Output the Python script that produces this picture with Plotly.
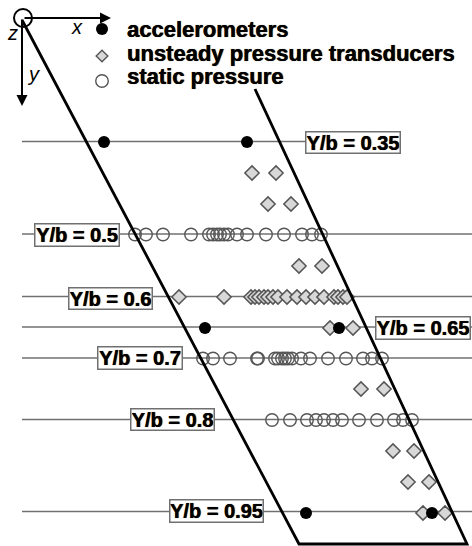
import plotly.graph_objects as go

# Span stations: label, line height, line start
stations = ["Y/b = 0.35", "Y/b = 0.5", "Y/b = 0.6", "Y/b = 0.65", "Y/b = 0.7", "Y/b = 0.8", "Y/b = 0.95"]
station_y = [141.5, 234, 296.5, 327, 358, 419.5, 511.5]
station_end = [306, 472, 472, 472, 472, 472, 472]
line_start = 22

# Planform outline
wing_x = [22, 299, 467, 255]
wing_y = [20, 544, 544, 89]

# Accelerometers
accel_x = [104, 247, 205, 339, 306, 432]
accel_y = [142, 142, 328, 328, 513, 513]

# Unsteady pressure transducers
row06_diamonds_x = [179, 224, 251, 255, 259, 264, 268, 273, 278, 287, 297, 306, 315, 324, 334, 338, 343, 347]
other_diamonds_x = [252, 276, 268, 291, 299, 322, 330, 353, 361, 384, 393, 414, 408, 429, 423, 445]
other_diamonds_y = [173, 173, 204, 204, 266, 266, 328, 328, 389, 389, 451, 451, 482, 482, 513, 513]
row06_y = 297

# Static pressure
row05_x = [135, 146, 163, 191, 209, 213, 217, 220, 224, 228, 237, 247, 266, 284, 302, 312, 321]
row07_x = [203, 213, 230, 257, 258, 275, 278, 282, 285, 288, 292, 301, 310, 328, 346, 363, 372, 382]
row08_x = [272, 290, 307, 316, 324, 333, 342, 359, 377, 394, 403, 412]
row05_y, row07_y, row08_y = 234.5, 358.5, 420

# Legend
legend_labels = ["accelerometers", "unsteady pressure transducers", "static pressure"]

# Label boxes: left, right, top, bottom
box_left = [305, 34, 68, 375, 97, 130, 169]
box_right = [400, 119, 152, 470, 182, 214, 263]
box_top = [131, 223, 287, 316, 346, 408, 499]
box_bottom = [153, 246, 309, 339, 369, 430, 522]

GREY = "#707070"
EDGE = "#555555"
FONT = "Liberation Sans"
HEAVY = "0.4px 0 0.7px rgba(0,0,0,0.85), -0.3px 0 0.5px rgba(0,0,0,0.6)"

fig = go.Figure()

# Station lines
for y, end in zip(station_y, station_end):
    fig.add_trace(go.Scatter(x=[line_start, end], y=[y, y], mode="lines",
                             line=dict(color=GREY, width=1.6), hoverinfo="skip"))

diamond = dict(symbol="diamond", size=11, color="#d8d8d8", line=dict(color=EDGE, width=1.5))
legend_diamond = dict(symbol="diamond", size=9, color="#d8d8d8", line=dict(color=EDGE, width=1.4))
open_circle = dict(symbol="circle-open", size=12.5, color=EDGE, line=dict(color=EDGE, width=1.4))
solid = dict(symbol="circle", size=12, color="black")

fig.add_trace(go.Scatter(x=row06_diamonds_x, y=[row06_y] * len(row06_diamonds_x),
                         mode="markers", marker=diamond, name=legend_labels[1]))
fig.add_trace(go.Scatter(x=other_diamonds_x, y=other_diamonds_y,
                         mode="markers", marker=diamond, name=legend_labels[1]))
for xs, y in ((row05_x, row05_y), (row07_x, row07_y), (row08_x, row08_y)):
    fig.add_trace(go.Scatter(x=xs, y=[y] * len(xs), mode="markers", marker=open_circle,
                             name=legend_labels[2]))
fig.add_trace(go.Scatter(x=accel_x, y=accel_y, mode="markers", marker=solid, name=legend_labels[0]))

# Wing outline
fig.add_trace(go.Scatter(x=wing_x, y=wing_y, mode="lines",
                         line=dict(color="black", width=2.8), hoverinfo="skip"))

# Legend samples
fig.add_trace(go.Scatter(x=[102], y=[29], mode="markers", marker=solid, hoverinfo="skip"))
fig.add_trace(go.Scatter(x=[102], y=[56], mode="markers", marker=legend_diamond, hoverinfo="skip"))
fig.add_trace(go.Scatter(x=[102], y=[81], mode="markers", marker=open_circle, hoverinfo="skip"))

# Origin circle
fig.add_shape(type="circle", x0=14, x1=32, y0=9, y1=27, line=dict(color="black", width=2))

annotations = []

# Axis arrows
for ax, ay, x, y in ((23, 18, 111, 18), (22, 18, 22, 106)):
    annotations.append(dict(x=x, y=y, ax=ax, ay=ay, xref="x", yref="y", axref="x", ayref="y",
                            text="", showarrow=True, arrowhead=2, arrowsize=1.1,
                            arrowwidth=2, arrowcolor="black"))

# Axis letters
for s, x, y in (("x", 77, 27), ("y", 33, 74), ("z", 12, 33)):
    annotations.append(dict(x=x, y=y, xref="x", yref="y", text=f"<i>{s}</i>", showarrow=False,
                            font=dict(family=FONT, size=20, color="black")))

# Legend text
for s, y in zip(legend_labels, (29.5, 53.5, 76.5)):
    annotations.append(dict(x=125, y=y, xref="x", yref="y", text=f"<b>{s}</b>", showarrow=False,
                            xanchor="left", font=dict(family=FONT, size=22, color="black", shadow=HEAVY)))

# Station labels
for s, l, r, t, b in zip(stations, box_left, box_right, box_top, box_bottom):
    annotations.append(dict(x=(l + r) / 2, y=(t + b) / 2, xref="x", yref="y",
                            text=f"<b>{s}</b>", showarrow=False,
                            width=r - l - 2, height=b - t - 2, align="center", valign="middle",
                            borderpad=0, bgcolor="white", bordercolor=GREY, borderwidth=1.5,
                            font=dict(family=FONT, size=20, color="black", shadow=HEAVY)))

fig.update_layout(
    width=472, height=546, autosize=False,
    margin=dict(l=0, r=0, t=0, b=0),
    paper_bgcolor="white", plot_bgcolor="white",
    showlegend=False,
    xaxis=dict(range=[0, 472], visible=False, fixedrange=True),
    yaxis=dict(range=[546, 0], visible=False, fixedrange=True),
    annotations=annotations,
)

fig.write_html("out.html", config=dict(displayModeBar=False),
               post_script="document.body.style.margin='0';")
